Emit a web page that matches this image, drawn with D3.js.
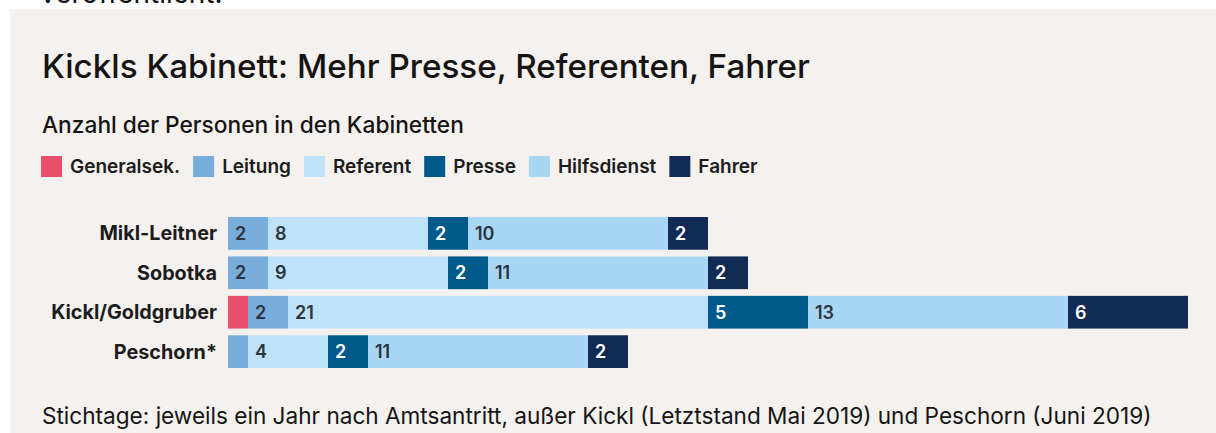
<!DOCTYPE html>
<html>
<head>
<meta charset="utf-8">
<script src="https://cdn.jsdelivr.net/npm/d3@7"></script>
<style>
  html, body { margin: 0; padding: 0; background: #ffffff; }
  svg { display: block; font-family: "Inter", "Roboto", sans-serif; }
</style>
</head>
<body>
<div id="chart"></div>
<script>
// chart data
var categories = ["Mikl-Leitner", "Sobotka", "Kickl/Goldgruber", "Peschorn*"];
var seriesNames = ["Generalsek.", "Leitung", "Referent", "Presse", "Hilfsdienst", "Fahrer"];
var generalsek = [0, 0, 1, 0];
var leitung = [2, 2, 2, 1];
var referent = [8, 9, 21, 4];
var presse = [2, 2, 5, 2];
var hilfsdienst = [10, 11, 13, 11];
var fahrer = [2, 2, 6, 2];

var colors = ["#e84f6d", "#79addc", "#bee3f8", "#00598b", "#a8d7f3", "#112b55"];
var labelColors = ["#ffffff", "#2b3440", "#2b3440", "#ffffff", "#2b3440", "#ffffff"];

var width = 1216, height = 433;

var svg = d3.select("#chart").append("svg")
    .attr("width", width)
    .attr("height", height);

// beige panel
svg.append("rect")
    .attr("x", 10).attr("y", 9)
    .attr("width", 1206).attr("height", height - 9)
    .attr("fill", "#f4f1ee");

// cut off text from the page above
svg.append("text")
    .attr("x", 40).attr("y", 3)
    .attr("font-size", 28)
    .attr("fill", "#111")
    .text("veröffentlicht.");

// fit a text to a given width by changing its font size
function fitText(sel, targetWidth) {
  var node = sel.node();
  var fs = parseFloat(sel.attr("font-size"));
  var w = node.getComputedTextLength();
  sel.attr("font-size", (fs * targetWidth / w).toFixed(2));
}

var title = svg.append("text")
    .attr("x", 42).attr("y", 78)
    .attr("font-size", 28)
    .attr("font-weight", 500)
    .attr("fill", "#141414")
    .text("Kickls Kabinett: Mehr Presse, Referenten, Fahrer");
fitText(title, 768);

var subtitle = svg.append("text")
    .attr("x", 42).attr("y", 133)
    .attr("font-size", 19)
    .attr("font-weight", 500)
    .attr("fill", "#141414")
    .text("Anzahl der Personen in den Kabinetten");
fitText(subtitle, 422);

// legend
var legend = svg.append("g").attr("transform", "translate(41,156)");
var lx = 0;
seriesNames.forEach(function(name, i) {
  var g = legend.append("g").attr("transform", "translate(" + lx + ",0)");
  g.append("rect")
      .attr("width", 21).attr("height", 21)
      .attr("fill", colors[i]);
  var t = g.append("text")
      .attr("x", 29).attr("y", 17)
      .attr("font-size", 19)
      .attr("font-weight", 600)
      .attr("fill", "#1c1c1c")
      .text(name);
  lx += 29 + t.node().getComputedTextLength() + 13;
});

// stacked data
var rows = categories.map(function(c, i) {
  return {
    name: c,
    "Generalsek.": generalsek[i],
    "Leitung": leitung[i],
    "Referent": referent[i],
    "Presse": presse[i],
    "Hilfsdienst": hilfsdienst[i],
    "Fahrer": fahrer[i]
  };
});
var stacked = d3.stack().keys(seriesNames)(rows);

var x = d3.scaleLinear()
    .domain([0, 48])
    .range([228, 1188]);

var y = d3.scaleBand()
    .domain(categories)
    .range([217, 368])
    .paddingInner(0.17)
    .paddingOuter(0);

var layers = svg.append("g").selectAll("g")
    .data(stacked)
    .enter().append("g")
    .attr("fill", function(d, i) { return colors[i]; });

layers.selectAll("rect")
    .data(function(d) { return d; })
    .enter().append("rect")
    .attr("x", function(d) { return x(d[0]); })
    .attr("y", function(d) { return y(d.data.name); })
    .attr("width", function(d) { return x(d[1]) - x(d[0]); })
    .attr("height", y.bandwidth());

// value labels inside the segments
layers.each(function(layer, li) {
  d3.select(this).selectAll("text")
      .data(layer.filter(function(d) { return d[1] - d[0] >= 2; }))
      .enter().append("text")
      .attr("x", function(d) { return x(d[0]) + 7; })
      .attr("y", function(d) { return y(d.data.name) + y.bandwidth() / 2 + 6.5; })
      .attr("font-size", 18)
      .attr("font-weight", 600)
      .attr("fill", labelColors[li])
      .text(function(d) { return d[1] - d[0]; });
});

// category labels
var yAxis = svg.append("g")
    .attr("transform", "translate(217,0)")
    .call(d3.axisLeft(y).tickSize(0).tickPadding(0));
yAxis.select(".domain").remove();
yAxis.selectAll("text")
    .attr("font-family", "Inter, Roboto, sans-serif")
    .attr("font-size", 17)
    .attr("font-weight", 700)
    .attr("fill", "#1c1c1c")
    .attr("dy", "0.35em");
// scale the labels so the longest matches the reference width
var longest = d3.max(yAxis.selectAll("text").nodes(), function(n) { return n.getComputedTextLength(); });
yAxis.selectAll("text").attr("font-size", (17 * 166 / longest).toFixed(2));

// footnote
var note = svg.append("text")
    .attr("x", 42).attr("y", 424)
    .attr("font-size", 20)
    .attr("font-weight", 400)
    .attr("fill", "#141414")
    .text("Stichtage: jeweils ein Jahr nach Amtsantritt, außer Kickl (Letztstand Mai 2019) und Peschorn (Juni 2019)");
fitText(note, 1110);
</script>
</body>
</html>
